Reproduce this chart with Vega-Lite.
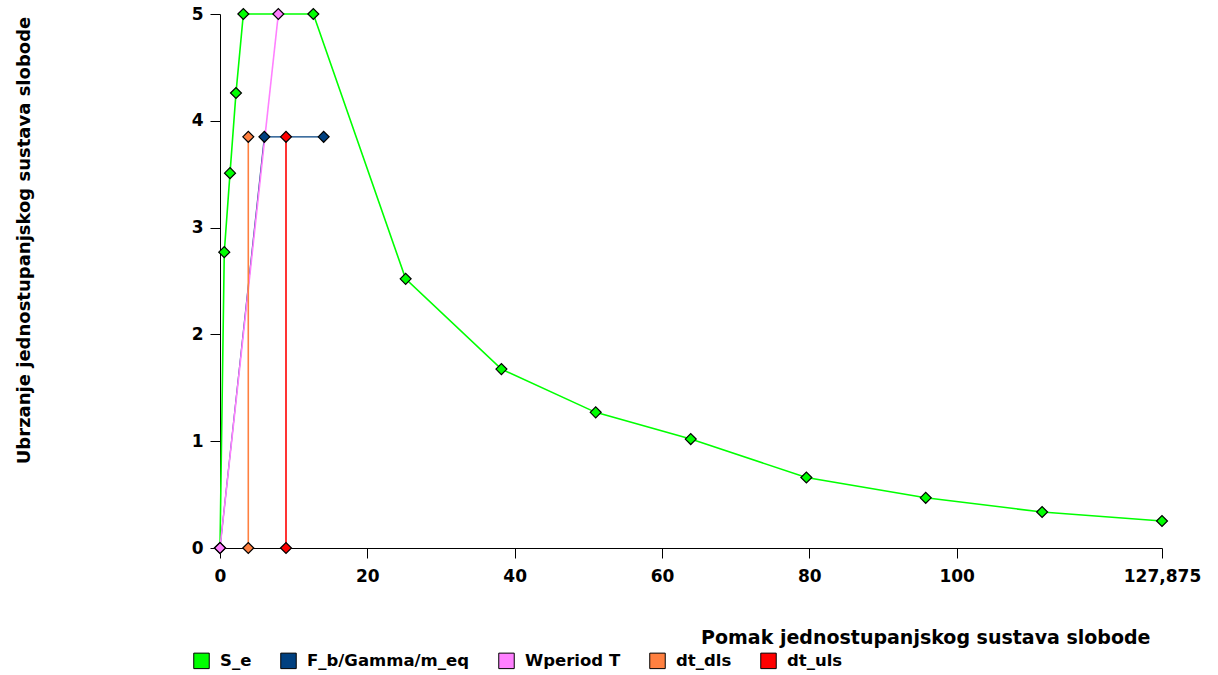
{
  "$schema": "https://vega.github.io/schema/vega-lite/v6.json",
  "width": 942,
  "height": 534,
  "autosize": {"type": "none"},
  "padding": {"left": 220, "top": 14, "right": 56, "bottom": 127},
  "background": "white",
  "config": {"view": {"stroke": null}, "font": "DejaVu Sans"},
  "data": {
    "values": [
      {"series": "S_e", "i": 0, "x": 0, "y": 0},
      {"series": "S_e", "i": 1, "x": 0.58, "y": 2.77},
      {"series": "S_e", "i": 2, "x": 1.36, "y": 3.51},
      {"series": "S_e", "i": 3, "x": 2.17, "y": 4.26},
      {"series": "S_e", "i": 4, "x": 3.17, "y": 5},
      {"series": "S_e", "i": 5, "x": 12.67, "y": 5},
      {"series": "S_e", "i": 6, "x": 25.2, "y": 2.52},
      {"series": "S_e", "i": 7, "x": 38.2, "y": 1.675},
      {"series": "S_e", "i": 8, "x": 51.0, "y": 1.27},
      {"series": "S_e", "i": 9, "x": 63.9, "y": 1.02},
      {"series": "S_e", "i": 10, "x": 79.6, "y": 0.66},
      {"series": "S_e", "i": 11, "x": 95.8, "y": 0.47},
      {"series": "S_e", "i": 12, "x": 111.6, "y": 0.337},
      {"series": "S_e", "i": 13, "x": 127.875, "y": 0.253},
      {"series": "F_b/Gamma/m_eq", "i": 0, "x": 0, "y": 0},
      {"series": "F_b/Gamma/m_eq", "i": 1, "x": 6.02, "y": 3.85},
      {"series": "F_b/Gamma/m_eq", "i": 2, "x": 14.07, "y": 3.85},
      {"series": "Wperiod T", "i": 0, "x": 0, "y": 0},
      {"series": "Wperiod T", "i": 1, "x": 7.92, "y": 5},
      {"series": "dt_dls", "i": 0, "x": 3.84, "y": 0},
      {"series": "dt_dls", "i": 1, "x": 3.84, "y": 3.85},
      {"series": "dt_uls", "i": 0, "x": 8.96, "y": 0},
      {"series": "dt_uls", "i": 1, "x": 8.96, "y": 3.85}
    ]
  },
  "encoding": {
    "x": {
      "field": "x",
      "type": "quantitative",
      "scale": {"domain": [0, 127.875], "nice": false, "zero": false},
      "axis": {
        "values": [0, 20, 40, 60, 80, 100, 127.875],
        "labelExpr": "replace(format(datum.value, '~f'), '.', ',')",
        "grid": false,
        "labelFlush": false,
        "labelFont": "DejaVu Sans",
        "labelFontWeight": "bold",
        "labelFontSize": 17,
        "labelColor": "black",
        "labelPadding": 10,
        "tickSize": 10,
        "tickColor": "black",
        "domainColor": "black",
        "title": "Pomak jednostupanjskog sustava slobode",
        "titleFont": "DejaVu Sans",
        "titleFontWeight": "bold",
        "titleFontSize": 19,
        "titleColor": "black",
        "titleAnchor": "end",
        "titleAlign": "right",
        "titleX": 930,
        "titleY": 95,
        "titleBaseline": "alphabetic"
      }
    },
    "y": {
      "field": "y",
      "type": "quantitative",
      "scale": {"domain": [0, 5], "nice": false},
      "axis": {
        "values": [0, 1, 2, 3, 4, 5],
        "grid": false,
        "labelFlush": false,
        "labelFont": "DejaVu Sans",
        "labelFontWeight": "bold",
        "labelFontSize": 17,
        "labelColor": "black",
        "labelPadding": 7,
        "tickSize": 10,
        "tickColor": "black",
        "domainColor": "black",
        "title": "Ubrzanje jednostupanjskog sustava slobode",
        "titleFont": "DejaVu Sans",
        "titleFontWeight": "bold",
        "titleFontSize": 18,
        "titleColor": "black",
        "titleX": -196,
        "titleY": 226,
        "titleBaseline": "middle",
        "titleAlign": "center"
      }
    },
    "order": {"field": "i", "type": "quantitative"}
  },
  "layer": [
    {
      "transform": [{"filter": "datum.series === 'F_b/Gamma/m_eq'"}],
      "mark": {"type": "line", "strokeWidth": 1.2},
      "encoding": {
        "stroke": {
          "field": "series",
          "type": "nominal",
          "scale": {
            "domain": ["dt_uls", "dt_dls", "Wperiod T", "F_b/Gamma/m_eq", "S_e"],
            "range": ["#FF0000", "#FF8040", "#FF80FF", "#004080", "#00FF00"]
          },
          "legend": null
        }
      }
    },
    {
      "transform": [{"filter": "datum.series !== 'F_b/Gamma/m_eq'"}],
      "mark": {"type": "line", "strokeWidth": 1.6},
      "encoding": {
        "stroke": {
          "field": "series",
          "type": "nominal",
          "scale": {
            "domain": ["dt_uls", "dt_dls", "Wperiod T", "F_b/Gamma/m_eq", "S_e"],
            "range": ["#FF0000", "#FF8040", "#FF80FF", "#004080", "#00FF00"]
          },
          "legend": null
        }
      }
    },
    {
      "mark": {"type": "point", "shape": "diamond", "filled": true, "size": 120, "stroke": "black", "strokeWidth": 1.2, "opacity": 1},
      "encoding": {
        "fill": {
          "field": "series",
          "type": "nominal",
          "scale": {
            "domain": ["S_e", "F_b/Gamma/m_eq", "Wperiod T", "dt_dls", "dt_uls"],
            "range": ["#00FF00", "#004080", "#FF80FF", "#FF8040", "#FF0000"]
          },
          "legend": {
            "title": null,
            "orient": "none",
            "legendX": -27,
            "legendY": 638,
            "direction": "horizontal",
            "padding": 0,
            "symbolType": "square",
            "symbolSize": 240,
            "symbolStrokeColor": "black",
            "symbolStrokeWidth": 1,
            "labelFont": "DejaVu Sans",
            "labelFontWeight": "bold",
            "labelFontSize": 16.5,
            "labelColor": "black",
            "labelOffset": 10,
            "labelLimit": 400,
            "columnPadding": 26,
            "encode": {
              "symbols": {
                "update": {
                  "shape": {"value": "square"},
                  "stroke": {"value": "black"},
                  "strokeWidth": {"value": 1},
                  "opacity": {"value": 1}
                }
              }
            }
          }
        }
      }
    }
  ]
}
